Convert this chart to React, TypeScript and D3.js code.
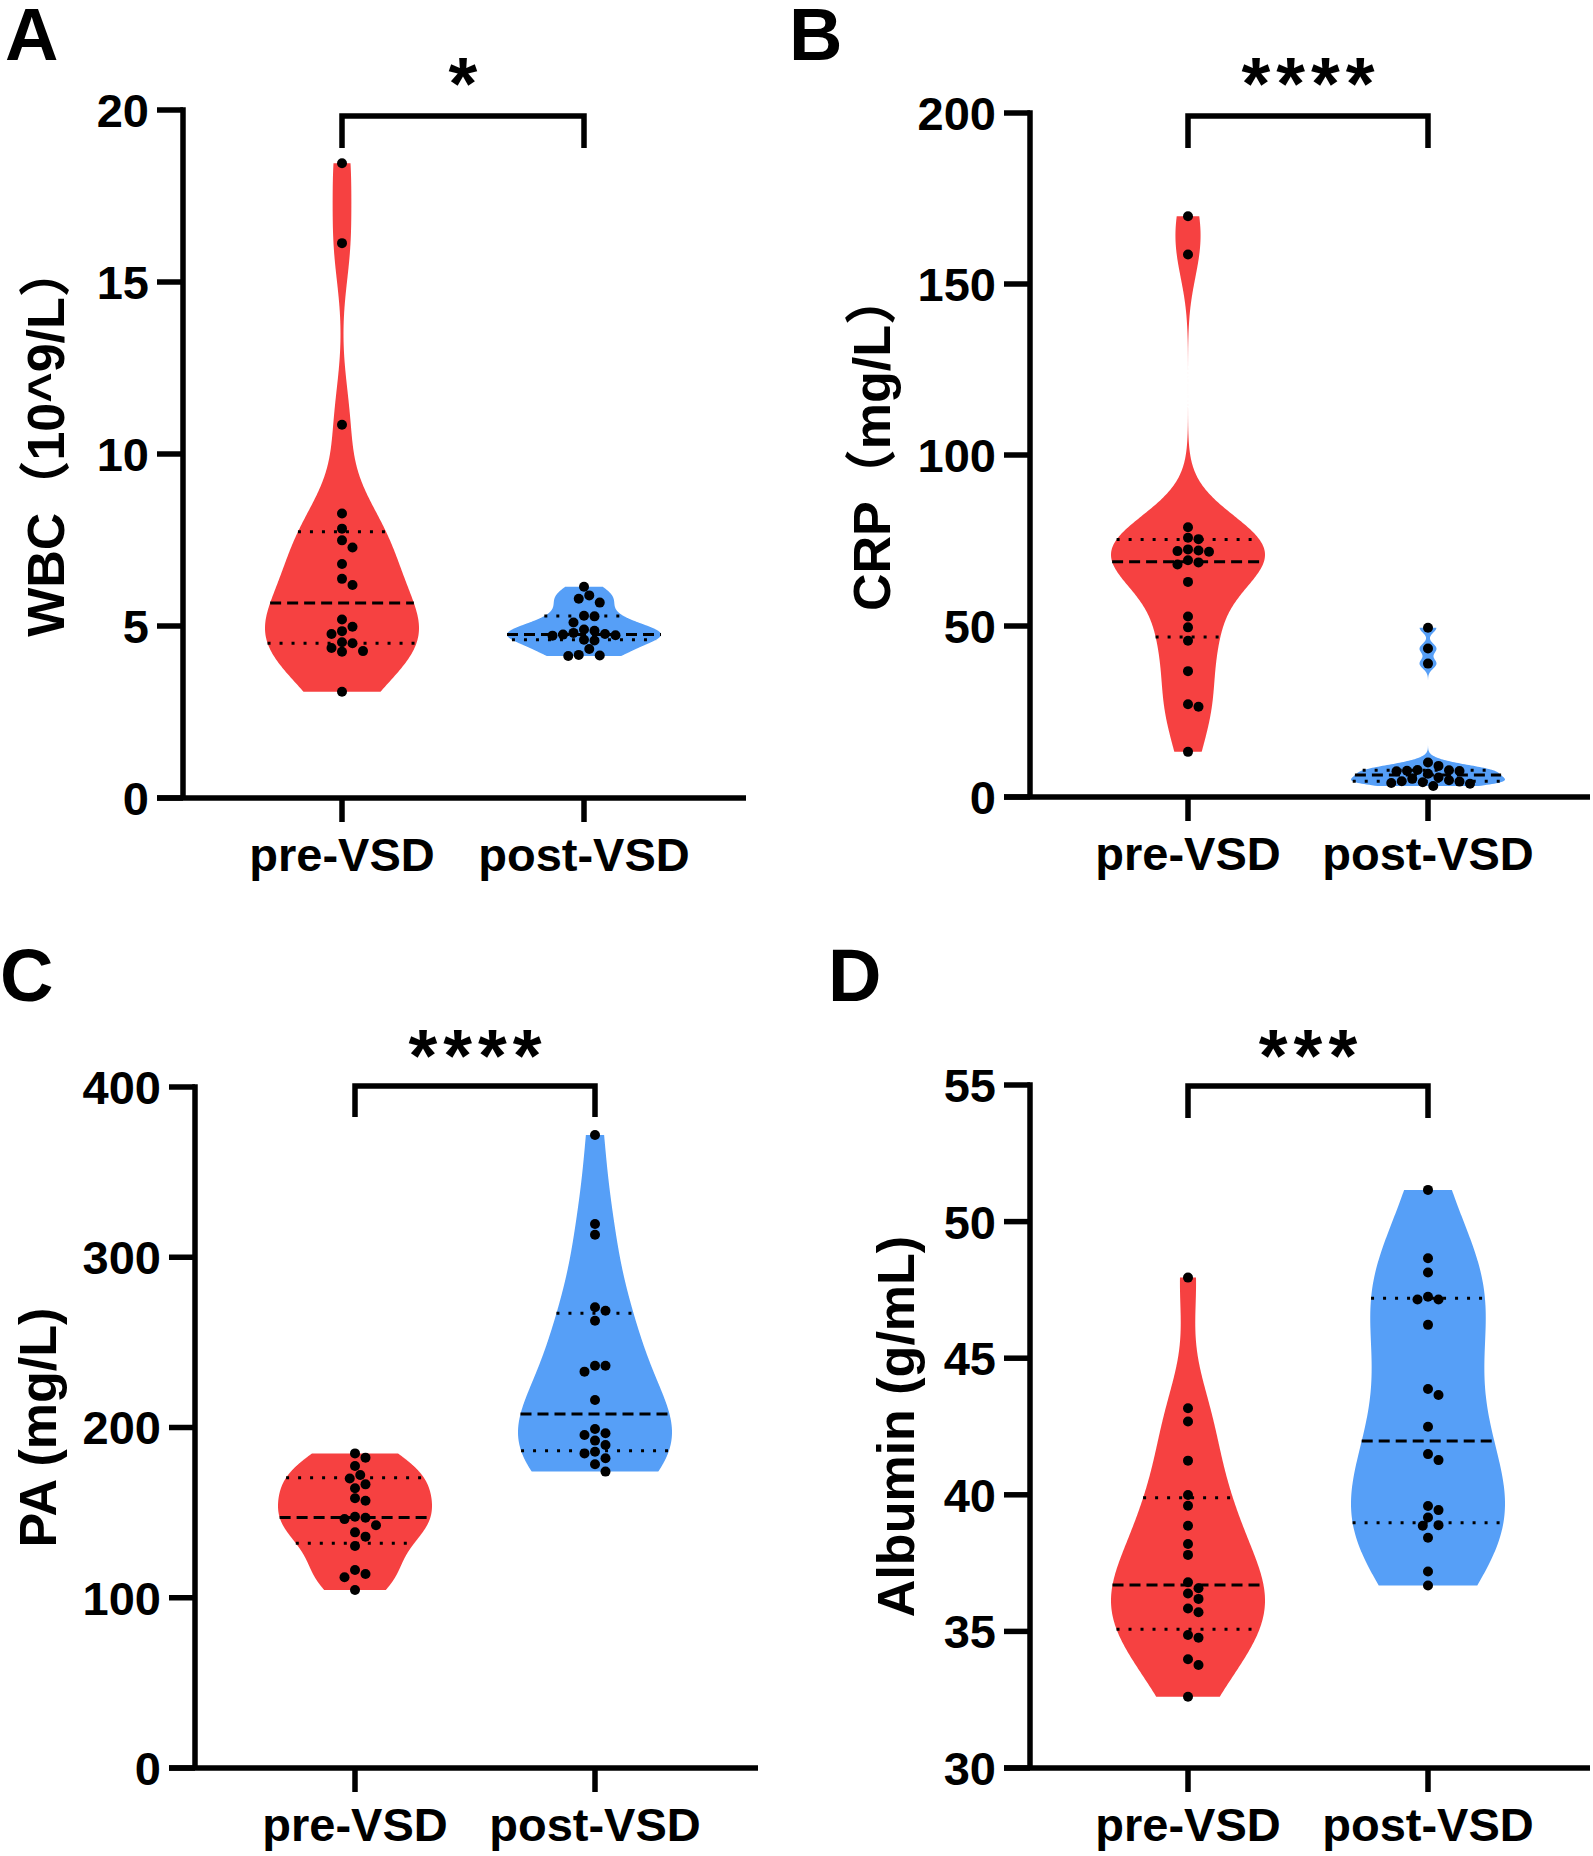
import React from "react";
import * as d3 from "d3";

// ---------- data ----------
const categories = ["pre-VSD", "post-VSD"];

const wbcPre = [18.45, 16.13, 10.85, 8.27, 7.83, 7.49, 7.28, 6.8, 6.37, 6.19, 5.19, 4.98, 4.85, 4.77, 4.53, 4.5, 4.36, 4.27, 4.25, 3.09];
const wbcPost = [6.14, 5.89, 5.79, 5.68, 5.3, 5.28, 5.1, 4.9, 4.86, 4.8, 4.77, 4.75, 4.73, 4.72, 4.6, 4.58, 4.33, 4.16, 4.14, 4.13];
const crpPre = [169.8, 158.6, 78.9, 75.8, 75.4, 72.4, 72.1, 71.9, 71.7, 69.2, 68.6, 68.0, 62.9, 52.8, 49.6, 45.7, 36.8, 27.1, 26.4, 13.2];
const crpPost = [49.5, 43.4, 39.0, 10.1, 9.1, 7.9, 7.8, 7.7, 7.6, 7.5, 6.8, 5.7, 5.3, 4.9, 4.6, 4.5, 4.3, 4.1, 3.9, 3.2];
const paPre = [184.8, 182.3, 177.4, 172.1, 170.0, 166.6, 164.3, 158.4, 157.0, 147.6, 147.0, 146.2, 142.6, 138.4, 135.9, 130.4, 116.3, 114.0, 112.0, 104.6];
const paPost = [371.8, 319.5, 313.2, 270.6, 268.6, 262.7, 236.3, 236.3, 232.8, 216.2, 199.1, 196.6, 195.6, 192.3, 189.7, 185.8, 184.8, 181.9, 178.4, 174.1];
const albPre = [47.95, 43.17, 42.68, 41.25, 39.99, 39.6, 38.87, 38.2, 37.8, 36.8, 36.58, 36.39, 36.19, 35.84, 35.7, 34.87, 34.77, 33.98, 33.77, 32.61];
const albPost = [51.16, 48.66, 48.14, 47.25, 47.15, 47.15, 46.22, 43.87, 43.65, 42.49, 41.49, 41.27, 39.59, 39.44, 39.17, 38.89, 38.87, 38.43, 37.19, 36.68];

// [median, lower quartile, upper quartile] as drawn
const wbcStats = [[5.67, 4.5, 7.74], [4.75, 4.6, 5.29]];
const crpStats = [[68.8, 46.8, 75.3], [6.4, 4.6, 7.8]];
const paStats = [[147.2, 132.0, 170.5], [207.9, 186.4, 267.1]];
const albStats = [[36.7, 35.08, 39.89], [41.97, 38.98, 47.19]];

const wbcTicks = [0, 5, 10, 15, 20];
const crpTicks = [0, 50, 100, 150, 200];
const paTicks = [0, 100, 200, 300, 400];
const albTicks = [30, 35, 40, 45, 50, 55];

const panels = [
  { letter: "A", title: "WBC（10^9/L）", sig: "*", series: [wbcPre, wbcPost], stats: wbcStats, ticks: wbcTicks,
    layout: { ax: 183, yTop: 110, yBot: 798, xEnd: 746, c0: 342, c1: 584, labelX: 64, labelDy: -13, lx: 5, ly: 60, brTop: 116, brBot: 148, starY: 109 } },
  { letter: "B", title: "CRP（mg/L）", sig: "****", series: [crpPre, crpPost], stats: crpStats, ticks: crpTicks,
    layout: { ax: 1030, yTop: 113, yBot: 797, xEnd: 1590, c0: 1188, c1: 1428, labelX: 890, labelDy: -13, lx: 789, ly: 60, brTop: 116, brBot: 148, starY: 109 } },
  { letter: "C", title: "PA (mg/L)", sig: "****", series: [paPre, paPost], stats: paStats, ticks: paTicks,
    layout: { ax: 195, yTop: 1087, yBot: 1768, xEnd: 758, c0: 355, c1: 595, labelX: 56, labelDy: 0, lx: 0, ly: 1001, brTop: 1086, brBot: 1117, starY: 1081 } },
  { letter: "D", title: "Albumin (g/mL)", sig: "***", series: [albPre, albPost], stats: albStats, ticks: albTicks,
    layout: { ax: 1030, yTop: 1085, yBot: 1768, xEnd: 1590, c0: 1188, c1: 1428, labelX: 914, labelDy: 0, lx: 828, ly: 1001, brTop: 1086, brBot: 1118, starY: 1081 } },
];

const COLORS = ["#F64141", "#569FF7"];
const FONT = "'Liberation Sans', Arial, 'Noto Sans CJK SC', sans-serif";
const HALF_W = 77;
const R = 5;

function bandwidth(values: number[]) {
  const sd = d3.deviation(values) || 1;
  const sorted = values.slice().sort((a, b) => a - b);
  const iqr = (d3.quantile(sorted, 0.75) || 0) - (d3.quantile(sorted, 0.25) || 0);
  const s = Math.min(sd, iqr / 1.34 || sd);
  return 1.1 * 0.9 * s * Math.pow(values.length, -0.2);
}

function makeDensity(values: number[]) {
  const h = bandwidth(values);
  const f = (y: number) => d3.sum(values, (v) => Math.exp(-0.5 * ((y - v) / h) ** 2));
  const lo = d3.min(values)!, hi = d3.max(values)!;
  const grid = d3.range(0, 401).map((i) => lo + ((hi - lo) * i) / 400);
  const dens = grid.map(f);
  const dmax = d3.max(dens)!;
  return { grid, dens: dens.map((d) => d / dmax), at: (y: number) => f(y) / dmax };
}

function swarm(values: number[], y: (v: number) => number, cx: number) {
  const pts = values.map((v) => ({ v, py: y(v), px: cx })).sort((a, b) => b.v - a.v);
  const placed: { px: number; py: number }[] = [];
  const minD = 2 * R * 0.95;
  for (const p of pts) {
    for (let k = 0; k < 40; k++) {
      const off = k === 0 ? 0 : (k % 2 === 1 ? 1 : -1) * Math.ceil(k / 2) * R * 1.05;
      const x = cx + off;
      const hit = placed.some((q) => (q.px - x) ** 2 + (q.py - p.py) ** 2 < minD * minD);
      if (!hit) { p.px = x; break; }
    }
    placed.push(p);
  }
  return pts;
}

function Panel({ p }: { p: any }) {
  const L = p.layout;
  const dom = d3.extent(p.ticks) as [number, number];
  const y = d3.scaleLinear().domain(dom).range([L.yBot, L.yTop]);
  const x = d3.scalePoint().domain(categories).range([L.c0, L.c1]);
  const tickLen = 26;
  const SW = 5.5;
  return (
    <g>
      <text x={L.lx} y={L.ly} fontFamily={FONT} fontWeight="bold" fontSize={74} fill="#000">{p.letter}</text>
      {p.series.map((vals: number[], i: number) => {
        const cx = x(categories[i])!;
        const dn = makeDensity(vals);
        const area = d3.area<number>()
          .x0((_, j) => cx - HALF_W * dn.dens[j])
          .x1((_, j) => cx + HALF_W * dn.dens[j])
          .y((g) => y(g));
        const [med, q1, q3] = p.stats[i];
        const line = (v: number, dash: string, key: string) => {
          const w = HALF_W * dn.at(v);
          return <line key={key} x1={cx - w} x2={cx + w} y1={y(v)} y2={y(v)} stroke="#000" strokeWidth={3} strokeDasharray={dash} />;
        };
        const pts = swarm(vals, y, cx);
        return (
          <g key={i}>
            <path d={area(dn.grid) || ""} fill={COLORS[i]} />
            {line(q1, "3 9", "q1")}
            {line(q3, "3 9", "q3")}
            {line(med, "11 6", "med")}
            {pts.map((d, j) => <circle key={j} cx={d.px} cy={d.py} r={R} fill="#000" />)}
          </g>
        );
      })}
      {/* axes */}
      <line x1={L.ax} x2={L.ax} y1={L.yTop - SW / 2} y2={L.yBot} stroke="#000" strokeWidth={SW} />
      <line x1={L.ax - tickLen} x2={L.xEnd} y1={L.yBot} y2={L.yBot} stroke="#000" strokeWidth={SW} />
      {p.ticks.map((t: number) => (
        <g key={t}>
          <line x1={L.ax - tickLen} x2={L.ax} y1={y(t)} y2={y(t)} stroke="#000" strokeWidth={SW} />
          <text x={L.ax - 34} y={y(t)} dy="0.36em" textAnchor="end" fontFamily={FONT} fontWeight="bold" fontSize={47} fill="#000">{t}</text>
        </g>
      ))}
      {categories.map((c) => (
        <g key={c}>
          <line x1={x(c)} x2={x(c)} y1={L.yBot} y2={L.yBot + 24} stroke="#000" strokeWidth={SW} />
          <text x={x(c)} y={L.yBot + 73} textAnchor="middle" fontFamily={FONT} fontWeight="bold" fontSize={47} fill="#000">{c}</text>
        </g>
      ))}
      <text transform={`translate(${L.labelX},${(L.yTop + L.yBot) / 2 + L.labelDy}) rotate(-90)`} textAnchor="middle" fontFamily={FONT} fontWeight="bold" fontSize={52} fill="#000">{p.title}</text>
      {/* significance bracket */}
      <path d={`M${L.c0},${L.brBot}V${L.brTop}H${L.c1}V${L.brBot}`} fill="none" stroke="#000" strokeWidth={SW} />
      <text x={(L.c0 + L.c1) / 2 + 3} y={L.starY} textAnchor="middle" fontFamily={FONT} fontWeight="bold" fontSize={74} letterSpacing={6} fill="#000">{p.sig}</text>
    </g>
  );
}

export default function App() {
  return (
    <svg width={1593} height={1856} style={{ position: "absolute", left: 0, top: 0, background: "#fff" }}>
      <rect width={1593} height={1856} fill="#fff" />
      {panels.map((p) => <Panel key={p.letter} p={p} />)}
    </svg>
  );
}
